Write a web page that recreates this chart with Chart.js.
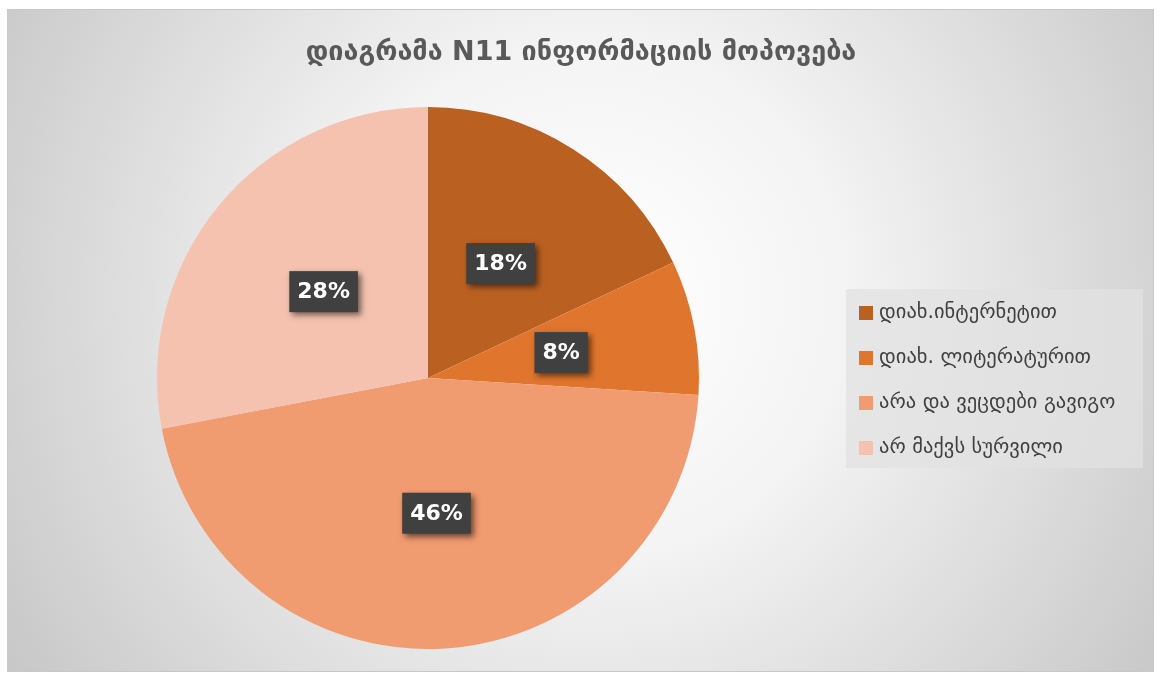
<!DOCTYPE html>
<html>
<head>
<meta charset="utf-8">
<script src="https://cdn.jsdelivr.net/npm/chart.js@4/dist/chart.umd.min.js"></script>
<style>
  html, body { margin: 0; padding: 0; background: #ffffff; }
  #wrap { width: 1160px; height: 677px; position: relative; }
</style>
</head>
<body>
<div id="wrap"><canvas id="c" width="1160" height="677"></canvas></div>
<script>
const titleText = "დიაგრამა N11 ინფორმაციის მოპოვება";
const categories = ["დიახ.ინტერნეტით", "დიახ. ლიტერატურით", "არა და ვეცდები გავიგო", "არ მაქვს სურვილი"];
const values = [18, 8, 46, 28];
const sliceColors = ["#BA6122", "#E0762E", "#F19B71", "#F5C2AF"];

const bgPlugin = {
  id: 'bg',
  beforeDraw(chart) {
    const ctx = chart.ctx;
    ctx.save();
    ctx.fillStyle = '#ffffff';
    ctx.fillRect(0, 0, chart.width, chart.height);
    const x0 = 7, y0 = 9, x1 = 1154, y1 = 672;
    const g = ctx.createRadialGradient(590, 300, 0, 590, 300, 720);
    g.addColorStop(0, '#ffffff');
    g.addColorStop(0.35, '#f4f4f4');
    g.addColorStop(1, '#c4c4c4');
    ctx.fillStyle = g;
    ctx.fillRect(x0, y0, x1 - x0, y1 - y0);
    ctx.strokeStyle = '#c8c8c8';
    ctx.lineWidth = 1;
    ctx.strokeRect(x0 + 0.5, y0 + 0.5, x1 - x0 - 1, y1 - y0 - 1);
    // title
    ctx.fillStyle = '#595959';
    ctx.font = 'bold 27px "DejaVu Sans"';
    ctx.textAlign = 'center';
    ctx.textBaseline = 'middle';
    ctx.fillText(titleText, 581, 53);
    ctx.restore();
  },
  afterDraw(chart) {
    const ctx = chart.ctx;
    const meta = chart.getDatasetMeta(0);
    ctx.save();
    // data labels
    ctx.font = 'bold 22px "DejaVu Sans"';
    ctx.textAlign = 'center';
    ctx.textBaseline = 'middle';
    meta.data.forEach((arc, i) => {
      const p = arc.getProps(['x', 'y', 'startAngle', 'endAngle', 'outerRadius'], true);
      const mid = (p.startAngle + p.endAngle) / 2;
      const r = p.outerRadius * 0.5;
      const lx = p.x + Math.cos(mid) * r;
      const ly = p.y + Math.sin(mid) * r;
      const txt = values[i] + '%';
      const w = ctx.measureText(txt).width + 16;
      const h = 41;
      ctx.save();
      ctx.shadowColor = 'rgba(0,0,0,0.55)';
      ctx.shadowBlur = 6;
      ctx.shadowOffsetX = 3;
      ctx.shadowOffsetY = 3;
      ctx.fillStyle = '#404040';
      ctx.fillRect(lx - w / 2, ly - h / 2, w, h);
      ctx.restore();
      ctx.fillStyle = '#ffffff';
      ctx.fillText(txt, lx, ly + 1);
    });
    // legend
    const lx0 = 846, ly0 = 289, lw = 297, lh = 179;
    ctx.fillStyle = 'rgba(225,225,225,0.75)';
    ctx.fillRect(lx0, ly0, lw, lh);
    ctx.font = '20.5px "DejaVu Sans"';
    ctx.textAlign = 'left';
    ctx.textBaseline = 'middle';
    categories.forEach((c, i) => {
      const cy = 313 + i * 45;
      ctx.fillStyle = sliceColors[i];
      ctx.fillRect(859, cy - 7, 14, 14);
      ctx.fillStyle = '#404040';
      ctx.fillText(c, 879, cy);
    });
    ctx.restore();
  }
};

new Chart(document.getElementById('c'), {
  type: 'pie',
  data: {
    labels: categories,
    datasets: [{
      data: values,
      backgroundColor: sliceColors,
      borderWidth: 0
    }]
  },
  options: {
    responsive: false,
    animation: false,
    layout: { padding: { left: 157, right: 461, top: 107, bottom: 28 } },
    plugins: {
      legend: { display: false },
      tooltip: { enabled: false },
      title: { display: false }
    }
  },
  plugins: [bgPlugin]
});
</script>
</body>
</html>
